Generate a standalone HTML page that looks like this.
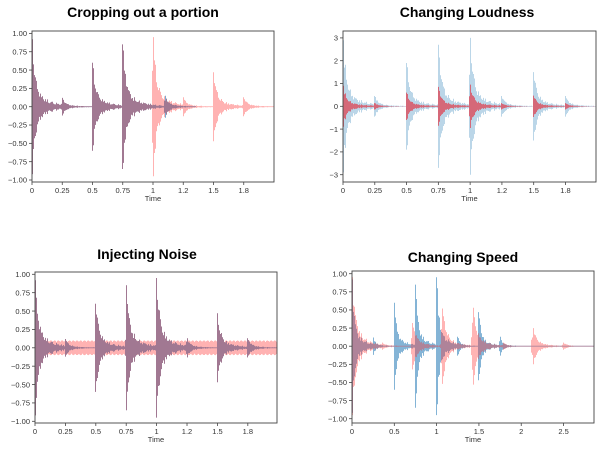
<!DOCTYPE html>
<html><head><meta charset="utf-8"><style>
body{margin:0;background:#fff;}
svg{display:block;font-family:"Liberation Sans",sans-serif;}
.t{font-family:"Liberation Sans",sans-serif;font-weight:bold;font-size:14px;}
.tk{font-size:7.5px;fill:#333;}
</style></head><body>
<svg id="c" width="607" height="449"></svg>
<script>
// ---- data ----
const ampTicks=[1,0.75,0.5,0.25,0,-0.25,-0.5,-0.75,-1];
const ampTickLabels=["1.00","0.75","0.50","0.25","0.00","\u22120.25","\u22120.50","\u22120.75","\u22121.00"];
const loudTicks=[3,2,1,0,-1,-2,-3];
const loudTickLabels=["3","2","1","0","\u22121","\u22122","\u22123"];
const timeTicks=[0,0.25,0.5,0.75,1,1.25,1.5,1.75];
const timeTickLabels=["0","0.25","0.5","0.75","1","1.2","1.5","1.8"];
const speedTicks=[0,0.5,1,1.5,2,2.5];
const speedTickLabels=["0","0.5","1","1.5","2","2.5"];
// original clip: onset times and peak amplitudes
const origOnsets=[0,0.25,0.5,0.75,1.0,1.25,1.5,1.75];
const origAmps=[0.92,0.12,0.6,0.85,0.95,0.13,0.47,0.13];
// cropped clip
const cropOnsets=[0,0.25,0.5,0.75,1.1];
const cropAmps=[0.92,0.12,0.6,0.85,0.15];
const cropEnd=1.35;
// louder clip
const loudOnsets=[0,0.25,0.5,0.75,1.0,1.25,1.5,1.75];
const loudAmps=[2.9,0.45,1.9,2.7,3.0,0.45,1.5,0.45];
const quietAmps=[0.9,0.14,0.6,0.85,0.95,0.14,0.47,0.14];
// noise level
const noiseLevel=0.1;
// slowed clip
const slowOnsets=[0,0.36,0.72,1.07,1.43,1.79,2.14,2.5];
const slowAmps=[0.95,0.05,0.32,0.52,0.53,0.05,0.25,0.05];

const svg=document.getElementById('c');
const NS='http://www.w3.org/2000/svg';
function mk(tag,attrs,parent){const e=document.createElementNS(NS,tag);for(const k in attrs)e.setAttribute(k,attrs[k]);(parent||svg).appendChild(e);return e;}

function env(tA,tB,px,onsets,amps,tauS,tauL,attack){
  let m=0;
  const tex=0.5+0.5*Math.abs(Math.sin(px*1.37)*Math.cos(px*0.61));
  for(let i=0;i<onsets.length;i++){
    const o=onsets[i];
    let a;
    if(o>=tA&&o<tB){a=amps[i];}
    else{
      const dt=tA-o;
      if(dt<-attack-(tB-tA))continue;
      if(dt<0)a=amps[i]*Math.max(0,1+(tB-o)/attack)*tex;
      else a=amps[i]*(0.72*Math.exp(-dt/tauS)*(0.7+0.3*tex)+0.28*Math.exp(-dt/tauL)*tex);
    }
    if(a>m)m=a;
  }
  return m;
}

function panel(p){
  const g=mk('g',{});
  
  
  const X=v=>p.x0+(v-0)*(p.x1-p.x0)/p.xmax;
  const Y=v=>p.yz-v*p.ys;
  const tt=mk('text',{x:p.tx,y:p.ty,'text-anchor':'middle',class:'t'},g);
  tt.textContent=p.title;
  
  
  const spp=p.xmax/(p.x1-p.x0);
  p.series.forEach(s=>{
    let d='';
    for(let px=Math.floor(p.x0);px<p.x1;px++){
      const tA=(px-p.x0)*spp, tB=tA+spp;
      if(s.end!==undefined&&tA>s.end)break;
      let a=env(tA,tB,px,s.onsets,s.amps,s.tauS,s.tauL,s.attack||0.002);
      if(s.noise)a=Math.max(a,s.noise*(0.8+0.2*Math.abs(Math.sin(px*2.3))));
      a=Math.max(a,s.floor||0.005);
      d+=`M${px+0.5},${Y(a).toFixed(1)}V${Y(-a).toFixed(1)}`;
    }
    const path=mk('path',{d:d,stroke:s.color,'stroke-width':1.0,fill:'none'},g);
    
    
  });
  const box=mk('rect',{x:p.x0,y:p.yt,width:p.x1-p.x0,height:p.yb-p.yt,fill:'none',stroke:'#444','stroke-width':0.9},g);
  
  
  p.yticks.forEach((v,i)=>{
    const y=Y(v);
    mk('line',{x1:p.x0-3,x2:p.x0,y1:y,y2:y,stroke:'#444','stroke-width':0.8},g);
    const l=mk('text',{x:p.x0-5,y:y+2.7,'text-anchor':'end',class:'tk'},g);
    l.textContent=p.ylabels[i];
    
    
  });
  p.xticks.forEach((v,i)=>{
    const x=X(v);
    mk('line',{x1:x,x2:x,y1:p.yb,y2:p.yb+3,stroke:'#444','stroke-width':0.8},g);
    const l=mk('text',{x:x,y:p.yb+11,'text-anchor':'middle',class:'tk'},g);
    l.textContent=p.xlabels[i];
    
    
  });
  const xl=mk('text',{x:(p.x0+p.x1)/2,y:p.yb+19,'text-anchor':'middle',class:'tk'},g);
  xl.textContent='Time';
  
  
}

const blueSolid='rgba(31,119,180,0.6)';
panel({name:'cropping-panel',title:'Cropping out a portion',tx:143,ty:17,x0:32,x1:274,yt:31,yb:182,yz:106.7,ys:73.3,xmax:2.0,
  yticks:ampTicks,ylabels:ampTickLabels,xticks:timeTicks,xlabels:timeTickLabels,
  series:[
    {name:'cropped-waveform',onsets:cropOnsets,amps:cropAmps,tauS:0.025,tauL:0.13,color:blueSolid,end:cropEnd},
    {name:'original-waveform',onsets:origOnsets,amps:origAmps,tauS:0.025,tauL:0.13,color:'rgba(255,0,0,0.3)'}
  ]});
panel({name:'loudness-panel',title:'Changing Loudness',tx:467,ty:17,x0:343,x1:596,yt:31,yb:182,yz:106.3,ys:22.8,xmax:1.99,
  yticks:loudTicks,ylabels:loudTickLabels,xticks:timeTicks,xlabels:timeTickLabels,
  series:[
    {name:'loud-waveform',onsets:loudOnsets,amps:loudAmps,tauS:0.025,tauL:0.13,color:'rgba(31,119,180,0.3)'},
    {name:'original-waveform',onsets:loudOnsets,amps:quietAmps,tauS:0.025,tauL:0.13,color:'rgba(230,30,45,0.6)'}
  ]});
panel({name:'noise-panel',title:'Injecting Noise',tx:147,ty:259,x0:35,x1:277,yt:272,yb:423,yz:347.8,ys:73.5,xmax:1.99,
  yticks:ampTicks,ylabels:ampTickLabels,xticks:timeTicks,xlabels:timeTickLabels,
  series:[
    {name:'original-waveform',onsets:origOnsets,amps:origAmps,tauS:0.025,tauL:0.13,color:blueSolid},
    {name:'noisy-waveform',onsets:origOnsets,amps:origAmps,tauS:0.025,tauL:0.13,color:'rgba(255,0,0,0.3)',noise:noiseLevel}
  ]});
panel({name:'speed-panel',title:'Changing Speed',tx:463,ty:262,x0:352,x1:594,yt:271,yb:423,yz:346.2,ys:72.5,xmax:2.86,
  yticks:ampTicks,ylabels:ampTickLabels,xticks:speedTicks,xlabels:speedTickLabels,
  series:[
    {name:'original-waveform',onsets:origOnsets,amps:origAmps,tauS:0.025,tauL:0.13,color:'rgba(31,119,180,0.55)'},
    {name:'slowed-waveform',onsets:slowOnsets,amps:slowAmps,tauS:0.04,tauL:0.16,attack:0.02,color:'rgba(255,40,40,0.35)'}
  ]});
</script>
</body></html>
